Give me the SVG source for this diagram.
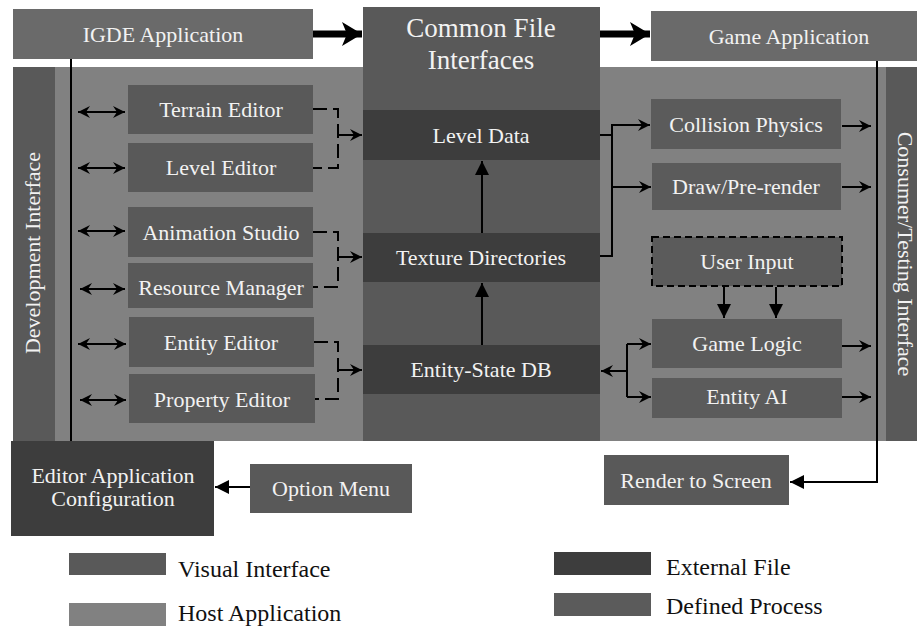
<svg xmlns="http://www.w3.org/2000/svg" width="917" height="626" viewBox="0 0 917 626" font-family="'Liberation Serif', 'DejaVu Serif', serif">
<style>
text{font-family:'Liberation Serif','DejaVu Serif',serif;}
.lbl{fill:#f2f2f2;font-size:22px;text-anchor:middle;}
.big{fill:#f2f2f2;font-size:27px;text-anchor:middle;}
.leg{fill:#111;font-size:24px;}
.app{fill:#6a6a6a;}
.host{fill:#818181;}
.vis{fill:#595959;}
.ext{fill:#3d3d3d;}
.proc{fill:#5b5b5b;}
.ln{fill:none;stroke:#000;stroke-width:2;}
.dash{fill:none;stroke:#000;stroke-width:2;stroke-dasharray:14,6;}
</style>
<defs>
<marker id="st" viewBox="0 0 12 12" refX="12" refY="6" markerWidth="12" markerHeight="12" markerUnits="userSpaceOnUse" orient="auto-start-reverse">
<path d="M0,0 L12,6 L0,12 L4,6 z" fill="#000"/>
</marker>
<marker id="tri" viewBox="0 0 14 14" refX="14" refY="7" markerWidth="14" markerHeight="14" markerUnits="userSpaceOnUse" orient="auto">
<path d="M0,0 L14,7 L0,14 z" fill="#000"/>
</marker>
<marker id="bigh" viewBox="0 0 20 24" refX="20" refY="12" markerWidth="20" markerHeight="24" markerUnits="userSpaceOnUse" orient="auto">
<path d="M0,0 L20,12 L0,24 L5,12 z" fill="#000"/>
</marker>
</defs>

<g id="host-panel">
<rect class="host" x="13" y="67" width="904" height="374"/>
</g>
<g id="development-interface">
<rect class="vis" x="13" y="67" width="42" height="374"/>
<text class="lbl" transform="translate(40,253) rotate(-90)">Development Interface</text>
</g>
<g id="consumer-interface">
<rect class="vis" x="886" y="67" width="31" height="374"/>
<text class="lbl" transform="translate(898,254) rotate(90)">Consumer/Testing Interface</text>
</g>
<g id="common-file-interfaces">
<rect class="vis" x="363" y="7" width="237" height="434"/>
<text class="big" x="481" y="37">Common File</text>
<text class="big" x="481" y="69">Interfaces</text>
</g>

<g id="igde-application">
<rect class="app" x="13" y="9" width="300" height="50"/>
<text class="lbl" x="163" y="42">IGDE Application</text>
</g>
<g id="game-application">
<rect class="app" x="651" y="11" width="266" height="50"/>
<text class="lbl" x="789" y="44">Game Application</text>
</g>

<g id="terrain-editor"><rect class="vis" x="128" y="85" width="185" height="49"/><text class="lbl" x="221" y="117">Terrain Editor</text></g>
<g id="level-editor"><rect class="vis" x="128" y="143" width="185" height="49"/><text class="lbl" x="221" y="175">Level Editor</text></g>
<g id="animation-studio"><rect class="vis" x="128" y="207" width="185" height="50"/><text class="lbl" x="221" y="240">Animation Studio</text></g>
<g id="resource-manager"><rect class="vis" x="128" y="263" width="185" height="45"/><text class="lbl" x="221" y="295">Resource Manager</text></g>
<g id="entity-editor"><rect class="vis" x="129" y="317" width="185" height="50"/><text class="lbl" x="221" y="350">Entity Editor</text></g>
<g id="property-editor"><rect class="vis" x="129" y="374" width="186" height="49"/><text class="lbl" x="222" y="407">Property Editor</text></g>

<g id="level-data"><rect class="ext" x="363" y="110" width="237" height="50"/><text class="lbl" x="481" y="143">Level Data</text></g>
<g id="texture-directories"><rect class="ext" x="363" y="233" width="237" height="49"/><text class="lbl" x="481" y="265">Texture Directories</text></g>
<g id="entity-state-db"><rect class="ext" x="363" y="345" width="237" height="49"/><text class="lbl" x="481" y="377">Entity-State DB</text></g>

<g id="collision-physics"><rect class="proc" x="651" y="99" width="190" height="50"/><text class="lbl" x="746" y="132">Collision Physics</text></g>
<g id="draw-prerender"><rect class="proc" x="652" y="163" width="189" height="47"/><text class="lbl" x="746" y="194">Draw/Pre-render</text></g>
<g id="user-input"><rect class="proc" x="652" y="237" width="190" height="49" stroke="#000" stroke-width="2" stroke-dasharray="7,4"/><text class="lbl" x="747" y="269">User Input</text></g>
<g id="game-logic"><rect class="proc" x="652" y="319" width="190" height="49"/><text class="lbl" x="747" y="351">Game Logic</text></g>
<g id="entity-ai"><rect class="proc" x="652" y="378" width="190" height="40"/><text class="lbl" x="747" y="404">Entity AI</text></g>

<g id="editor-app-config"><rect class="ext" x="11" y="441" width="203" height="95"/><text class="lbl" x="113" y="483">Editor Application</text><text class="lbl" x="113" y="506">Configuration</text></g>
<g id="option-menu"><rect class="vis" x="250" y="464" width="162" height="49"/><text class="lbl" x="331" y="496">Option Menu</text></g>
<g id="render-to-screen"><rect class="vis" x="604" y="455" width="185" height="50"/><text class="lbl" x="696" y="488">Render to Screen</text></g>

<g id="connectors">
<path d="M313,34 H362" stroke="#000" stroke-width="7" fill="none" marker-end="url(#bigh)"/>
<path d="M600,34 H650" stroke="#000" stroke-width="7" fill="none" marker-end="url(#bigh)"/>
<path class="ln" d="M71,59 V441"/>
<path class="ln" d="M877,61 V482 H790" marker-end="url(#tri)"/>
<path class="ln" d="M250,487 H215" marker-end="url(#tri)"/>

<path class="ln" d="M78,112 H125" marker-start="url(#st)" marker-end="url(#st)"/>
<path class="ln" d="M78,168 H125" marker-start="url(#st)" marker-end="url(#st)"/>
<path class="ln" d="M78,231 H125" marker-start="url(#st)" marker-end="url(#st)"/>
<path class="ln" d="M80,289 H125" marker-start="url(#st)" marker-end="url(#st)"/>
<path class="ln" d="M78,344 H126" marker-start="url(#st)" marker-end="url(#st)"/>
<path class="ln" d="M80,400 H126" marker-start="url(#st)" marker-end="url(#st)"/>

<path class="dash" d="M313,109 H338 V168 H313"/>
<path class="ln" d="M338,135 H362" marker-end="url(#st)"/>
<path class="dash" d="M313,232 H338 V287 H313"/>
<path class="ln" d="M338,257 H362" marker-end="url(#st)"/>
<path class="dash" d="M314,342 H338 V399 H315"/>
<path class="ln" d="M338,370 H362" marker-end="url(#st)"/>

<path class="ln" d="M482,233 V161" marker-end="url(#tri)"/>
<path class="ln" d="M482,345 V283" marker-end="url(#tri)"/>

<path class="ln" d="M600,135 H612"/>
<path class="ln" d="M600,256 H612 V125 H650" marker-end="url(#st)"/>
<path class="ln" d="M612,187 H651" marker-end="url(#st)"/>

<path class="ln" d="M842,126 H871" marker-end="url(#st)"/>
<path class="ln" d="M842,187 H871" marker-end="url(#st)"/>
<path class="ln" d="M842,346 H871" marker-end="url(#st)"/>
<path class="ln" d="M842,397 H871" marker-end="url(#st)"/>

<path class="ln" d="M724,287 V318" marker-end="url(#tri)"/>
<path class="ln" d="M776,287 V318" marker-end="url(#tri)"/>

<path class="ln" d="M627,344 V397"/>
<path class="ln" d="M627,371 H601" marker-end="url(#st)"/>
<path class="ln" d="M627,344 H651" marker-end="url(#st)"/>
<path class="ln" d="M627,397 H651" marker-end="url(#st)"/>
</g>

<g id="legend">
<rect class="vis" x="69" y="553" width="97" height="22"/>
<text class="leg" x="178" y="577">Visual Interface</text>
<rect class="host" x="69" y="603" width="97" height="23"/>
<text class="leg" x="178" y="621">Host Application</text>
<rect class="ext" x="554" y="552" width="97" height="23"/>
<text class="leg" x="666" y="575">External File</text>
<rect class="proc" x="554" y="593" width="97" height="23"/>
<text class="leg" x="666" y="614">Defined Process</text>
</g>
</svg>
